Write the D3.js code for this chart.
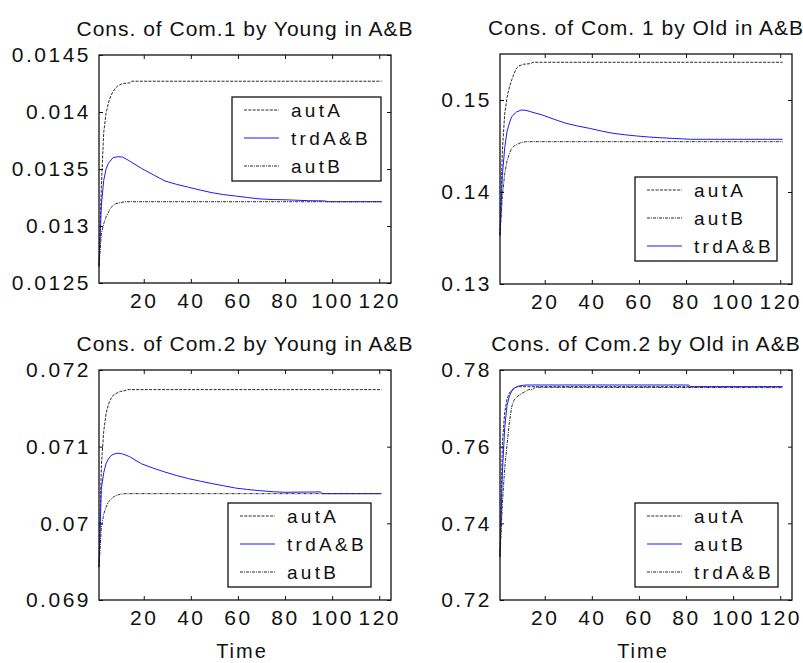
<!DOCTYPE html>
<html>
<head>
<meta charset="utf-8">
<script src="https://cdn.jsdelivr.net/npm/d3@7"></script>
<style>
  body { margin: 0; background: #fff; }
  svg text { font-family: "Liberation Sans", Arial, sans-serif; fill: #111; }
</style>
</head>
<body>
<svg id="chart" width="803" height="663"></svg>
<script>
// time axis
const xTicks = [20, 40, 60, 80, 100, 120];

// Com.1 by Young
const young1AutA = [[1,0.01265],[2,0.01335],[3,0.01382],[4,0.01399],[5,0.01408],[6,0.01414],[7,0.01418],[8,0.01421],[9,0.01423],[11,0.01425],[14,0.014255],[15,0.01427],[121,0.01427]];
const young1Trd = [[1,0.01264],[2,0.01318],[3,0.0134],[4,0.0135],[5,0.01355],[7,0.0136],[9,0.013608],[11,0.013605],[14,0.01357],[19,0.013506],[24,0.01345],[29,0.013395],[34,0.013365],[39,0.01334],[44,0.013315],[49,0.013292],[54,0.013275],[59,0.013263],[64,0.01325],[69,0.013238],[75,0.013232],[80,0.01323],[90,0.013222],[97,0.01322],[98,0.013213],[121,0.013213]];
const young1AutB = [[1,0.01265],[2,0.01293],[3,0.01302],[4,0.01308],[5,0.01312],[6,0.01316],[7,0.01318],[8,0.013195],[10,0.013205],[12,0.013213],[121,0.013213]];
const young1Ticks = [0.0125, 0.013, 0.0135, 0.014, 0.0145];

// Com.1 by Old
const old1AutA = [[1,0.1353],[2,0.1445],[3,0.1485],[4,0.1503],[5,0.1514],[6,0.1522],[7,0.1529],[8,0.15345],[9,0.1537],[11,0.15389],[14,0.15395],[15,0.1541],[121,0.1541]];
const old1AutB = [[1,0.1353],[2,0.1395],[3,0.142],[4,0.1434],[5,0.1442],[6,0.14475],[7,0.145],[8,0.14515],[10,0.14538],[12,0.14547],[121,0.14547]];
const old1Trd = [[1,0.1353],[2,0.1418],[3,0.1448],[4,0.1466],[5,0.1475],[6,0.1482],[8,0.1487],[10,0.14891],[12,0.14888],[15,0.14865],[19,0.14837],[24,0.1479],[29,0.14747],[34,0.14717],[39,0.14692],[44,0.14663],[49,0.14638],[54,0.14622],[59,0.14609],[64,0.14598],[69,0.1459],[75,0.14582],[82,0.14573],[121,0.14573]];
const old1Ticks = [0.13, 0.14, 0.15];

// Com.2 by Young
const young2AutA = [[1,0.06943],[2,0.07075],[3,0.0712],[4,0.07143],[5,0.07155],[6,0.07162],[7,0.07167],[8,0.07169],[10,0.07172],[12,0.07173],[13,0.071744],[121,0.071744]];
const young2Trd = [[1,0.06943],[2,0.07045],[3,0.07066],[4,0.07078],[5,0.07084],[6,0.07088],[7,0.0709],[9,0.070915],[11,0.070905],[14,0.07087],[19,0.070777],[24,0.07072],[29,0.070669],[34,0.070623],[39,0.070583],[44,0.07055],[49,0.070518],[54,0.07049],[59,0.07046],[64,0.070442],[69,0.070427],[75,0.070412],[80,0.070405],[95,0.07041],[96,0.070387],[121,0.070387]];
const young2AutB = [[1,0.06943],[2,0.06995],[3,0.07012],[4,0.07021],[5,0.07028],[6,0.07031],[7,0.07034],[8,0.07036],[10,0.07038],[12,0.070387],[121,0.070387]];
const young2Ticks = [0.069, 0.07, 0.071, 0.072];

// Com.2 by Old
const old2AutA = [[1,0.7313],[2,0.7609],[3,0.769],[4,0.7725],[5,0.774],[6,0.7748],[7,0.7753],[8,0.7755],[9,0.77565],[121,0.77565]];
const old2AutB = [[1,0.7313],[2,0.753],[3,0.765],[4,0.7708],[5,0.7732],[6,0.7745],[7,0.7752],[8,0.7756],[9,0.77583],[12,0.77609],[81,0.77609],[82,0.77565],[121,0.77565]];
const old2Trd = [[1,0.7313],[2,0.745],[3,0.7545],[4,0.7605],[5,0.7665],[6,0.7705],[7,0.7722],[8,0.7729],[10,0.7738],[13,0.77485],[15,0.775],[16,0.77548],[121,0.7754]];
const old2Ticks = [0.72, 0.74, 0.76, 0.78];

const svg = d3.select('#chart');

const styles = {
  dash: { stroke: '#2a2a2a', dash: '3,1.3' },
  dashdot: { stroke: '#2a2a2a', dash: '3,1,1,1' },
  blue: { stroke: '#1a1aff', dash: null }
};

const panels = [
  { title: 'Cons. of Com.1 by Young in A&B', left: 99, top: 55, h: 228, yDomain: [0.0125, 0.0145], yTicks: young1Ticks,
    series: [{ name: 'autA', data: young1AutA, s: 'dash' }, { name: 'trdA&B', data: young1Trd, s: 'blue' }, { name: 'autB', data: young1AutB, s: 'dashdot' }],
    legend: { x: 232, y: 97, w: 149 }, xlabel: false },
  { title: 'Cons. of Com. 1 by Old in A&B', left: 500, top: 54, h: 230, yDomain: [0.13, 0.155], yTicks: old1Ticks,
    series: [{ name: 'autA', data: old1AutA, s: 'dash' }, { name: 'autB', data: old1AutB, s: 'dashdot' }, { name: 'trdA&B', data: old1Trd, s: 'blue' }],
    legend: { x: 635, y: 177, w: 142 }, xlabel: false },
  { title: 'Cons. of Com.2 by Young in A&B', left: 99, top: 370, h: 230, yDomain: [0.069, 0.072], yTicks: young2Ticks,
    series: [{ name: 'autA', data: young2AutA, s: 'dash' }, { name: 'trdA&B', data: young2Trd, s: 'blue' }, { name: 'autB', data: young2AutB, s: 'dashdot' }],
    legend: { x: 228, y: 503, w: 143 }, xlabel: true },
  { title: 'Cons. of Com.2 by Old in A&B', left: 500, top: 370, h: 230, yDomain: [0.72, 0.78], yTicks: old2Ticks,
    series: [{ name: 'autA', data: old2AutA, s: 'dash' }, { name: 'autB', data: old2AutB, s: 'blue' }, { name: 'trdA&B', data: old2Trd, s: 'dashdot' }],
    legend: { x: 635, y: 503, w: 143 }, xlabel: true }
];

const W = 292;
const fmt = d3.format('~g');

panels.forEach(p => {
  const g = svg.append('g').attr('transform', `translate(${p.left},${p.top})`);
  const x = d3.scaleLinear().domain([1, 125]).range([0, W]);
  const y = d3.scaleLinear().domain(p.yDomain).range([p.h, 0]);

  // lines
  const line = d3.line().x(d => x(d[0])).y(d => y(d[1]));
  p.series.forEach(s => {
    g.append('path')
      .datum(s.data)
      .attr('fill', 'none')
      .attr('stroke', styles[s.s].stroke)
      .attr('stroke-width', 1)
      .attr('stroke-dasharray', styles[s.s].dash)
      .attr('d', line);
  });

  // axes, ticks pointing in on all sides
  const bottom = g.append('g').attr('transform', `translate(0,${p.h})`)
    .call(d3.axisBottom(x).tickValues(xTicks).tickSize(-4).tickPadding(10));
  g.append('g').call(d3.axisTop(x).tickValues(xTicks).tickSize(-4).tickFormat(''));
  const leftAx = g.append('g')
    .call(d3.axisLeft(y).tickValues(p.yTicks).tickSize(-4).tickPadding(8).tickFormat(fmt));
  g.append('g').attr('transform', `translate(${W},0)`)
    .call(d3.axisRight(y).tickValues(p.yTicks).tickSize(-4).tickFormat(''));
  g.selectAll('.domain').remove();
  g.selectAll('.tick line').attr('stroke', '#111');
  g.selectAll('.tick text').attr('font-size', 21).attr('letter-spacing', '2.5px')
    .attr('font-family', '"Liberation Sans", Arial, sans-serif').attr('fill', '#111');

  g.append('rect')
    .attr('width', W).attr('height', p.h)
    .attr('fill', 'none').attr('stroke', '#111').attr('stroke-width', 1.3);

  // title
  svg.append('text')
    .attr('x', p.left + W / 2).attr('y', p.top - 19)
    .attr('text-anchor', 'middle')
    .attr('font-size', 21).attr('letter-spacing', '1px')
    .text(p.title);

  if (p.xlabel) {
    svg.append('text')
      .attr('x', p.left + W / 2 - 3).attr('y', 658)
      .attr('text-anchor', 'middle')
      .attr('font-size', 20).attr('letter-spacing', '2px')
      .text('Time');
  }

  // legend
  const lg = svg.append('g').attr('transform', `translate(${p.legend.x},${p.legend.y})`);
  lg.append('rect').attr('width', p.legend.w).attr('height', 84)
    .attr('fill', '#fff').attr('stroke', '#111').attr('stroke-width', 1.3);
  p.series.forEach((s, i) => {
    const ry = 13 + i * 28;
    lg.append('line')
      .attr('x1', 12).attr('x2', 47).attr('y1', ry).attr('y2', ry)
      .attr('stroke', styles[s.s].stroke).attr('stroke-width', 1)
      .attr('stroke-dasharray', styles[s.s].dash);
    lg.append('text')
      .attr('x', 59).attr('y', ry + 7)
      .attr('font-size', 19).attr('letter-spacing', '3.3px')
      .text(s.name);
  });
});
</script>
</body>
</html>
